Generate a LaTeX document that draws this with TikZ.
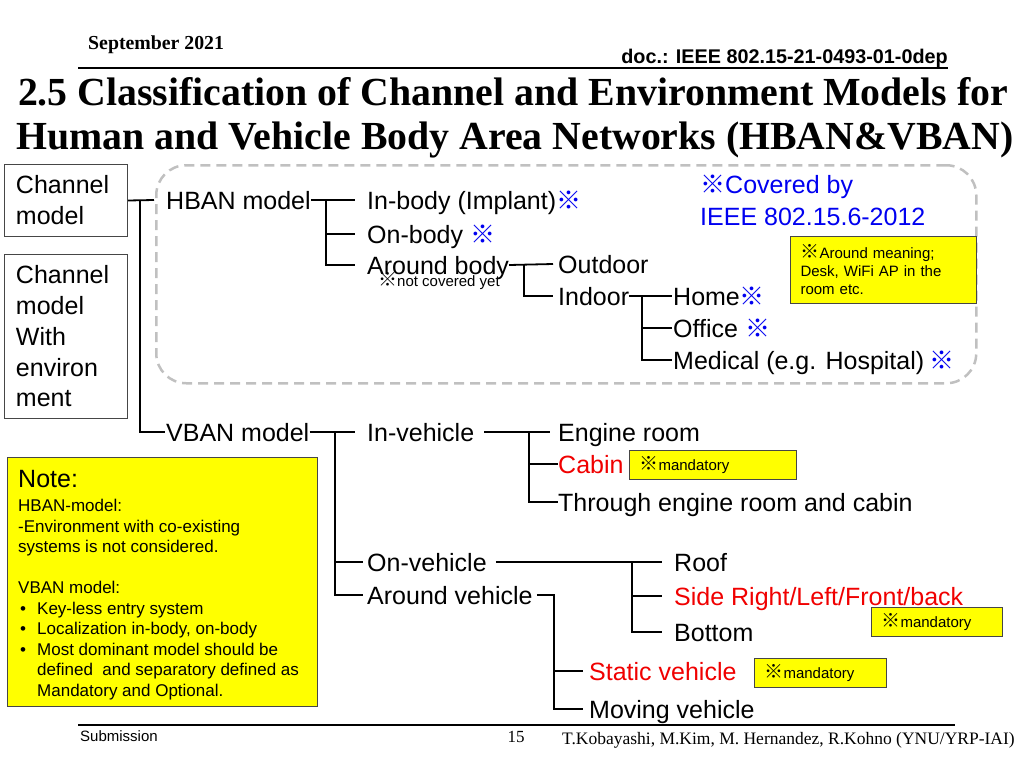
\documentclass[tikz,border=0pt]{standalone}
\usepackage{fontspec}
\setmainfont{Liberation Sans}
\newfontfamily\serif{Liberation Serif}
\newfontfamily\cjk{Noto Sans CJK JP}
\newcommand\km{{\cjk ※}}
\newcommand\kms{{\cjk\fontsize{19}{18}\selectfont ※}}
\definecolor{kblue}{RGB}{0,0,240}
\definecolor{kred}{RGB}{240,0,0}
\definecolor{kyel}{RGB}{255,255,0}
\definecolor{kgray}{RGB}{192,192,192}
\definecolor{kborder}{RGB}{70,70,70}
\begin{document}
\begin{tikzpicture}[x=1pt,y=-1pt,
  every node/.style={inner sep=0pt},
  tn/.style={anchor=west, font=\fontsize{25}{30}\selectfont, text height=18.75pt, text depth=0.75pt},
  wire/.style={line width=1.8pt, black},
  mand/.style={draw=kborder, fill=kyel, line width=1pt, anchor=north west, inner xsep=10pt,
    font=\fontsize{15}{18}\selectfont, align=left},
  cbox/.style={draw=kborder, line width=1pt, anchor=north west, inner xsep=11.5pt, align=left,
    font=\fontsize{25}{31}\selectfont, text width=100pt},
  rule/.style={line width=1.5pt, black}
]
\useasboundingbox (0,0) rectangle (1024,768);

% header
\node[anchor=west, font=\serif\bfseries\fontsize{19.8}{22}\selectfont] (date) at (88,45) {September 2021};
\node[anchor=east, font=\bfseries\fontsize{19.8}{22}\selectfont] (doc) at (948,58) {doc.: IEEE 802.15-21-0493-01-0dep};
\draw[rule] (78,68) -- (948,68);
\node[font=\serif\bfseries\fontsize{39.8}{44}\selectfont] (title1) at (513,92) {2.5 Classification of Channel and Environment Models for};
\node[font=\serif\bfseries\fontsize{39.8}{44}\selectfont] (title2) at (515,140) {Human and Vehicle Body Area Networks (HBAN\&VBAN)};

% footer
\draw[rule] (78,725) -- (955,725);
\node[anchor=west, font=\fontsize{15}{18}\selectfont] (subm) at (80,736) {Submission};
\node[font=\serif\fontsize{17}{20}\selectfont] (pnum) at (516,737) {15};
\node[anchor=east, font=\serif\fontsize{17.5}{20}\selectfont] (auth) at (1015,740) {T.Kobayashi, M.Kim, M. Hernandez, R.Kohno (YNU/YRP-IAI)};

% left boxes
\node[cbox, minimum width=123pt, minimum height=72pt] (cm) at (4,164) {Channel\\model};
\node[cbox, minimum width=123pt, minimum height=164pt, font=\fontsize{25}{30.75}\selectfont] (cme) at (4,254) {Channel\\model\\With\\environ\\ment};

% HBAN frame
\node[draw=kgray, line width=2.5pt, dash pattern=on 10pt off 6pt, rounded corners=30pt,
  anchor=north west, minimum width=820pt, minimum height=218pt] (frame) at (155,164) {};

% HBAN tree
\node[tn] (hban) at (166,200) {HBAN model};
\node[tn] (inbody) at (367,200) {In-body (Implant)\textcolor{kblue}{\km}};
\node[tn] (onbody) at (367,234) {On-body \textcolor{kblue}{\km}};
\node[tn] (around) at (367,265) {Around body};
\node[anchor=west, font=\fontsize{15}{18}\selectfont] (ncy) at (378,281) {\kms not covered yet};
\node[tn] (outdoor) at (558,264) {Outdoor};
\node[tn] (indoor) at (558,296) {Indoor};
\node[tn] (home) at (673,296) {Home\textcolor{kblue}{\km}};
\node[tn] (office) at (673,328) {Office \textcolor{kblue}{\km}};
\node[tn] (medical) at (673,360) {Medical (e.g. Hospital)\hspace{5pt}\textcolor{kblue}{\km}};

\node[anchor=west, text=kblue, font=\fontsize{25}{30}\selectfont] (cov1) at (700,187) {\km Covered by};
\node[anchor=west, text=kblue, font=\fontsize{25}{30}\selectfont] (cov2) at (700,217) {IEEE 802.15.6-2012};

\node[mand, minimum width=186pt, minimum height=67pt, text width=166pt] (aroundnote) at (790,236)
  {\kms Around meaning;\\Desk, WiFi AP in the\\room etc.};

\coordinate (trunk) at (140,200);
\coordinate (hbJ) at (326,200);
\coordinate (abJ) at (524,264);
\coordinate (inJ) at (642,296);

\draw[wire] (cm.east) -- ([xshift=-12pt]hban.west);
\draw[wire] (hban.east) -- ([xshift=-12pt]inbody.west);
\draw[wire] (hbJ) |- ([xshift=-12pt]around.west);
\draw[wire] (hbJ |- onbody.west) -- ([xshift=-12pt]onbody.west);
\draw[wire] (around.east) -- ([xshift=-5pt]outdoor.west);
\draw[wire] (abJ) |- ([xshift=-5pt]indoor.west);
\draw[wire] (indoor.east) -- ([xshift=-1pt]home.west);
\draw[wire] (inJ) |- ([xshift=-1pt]medical.west);
\draw[wire] (inJ |- office.west) -- ([xshift=-1pt]office.west);

% VBAN tree
\node[tn] (vban) at (166,432) {VBAN model};
\node[tn] (invehicle) at (367,432) {In-vehicle};
\node[tn] (engine) at (558,432) {Engine room};
\node[tn, text=kred] (cabin) at (558,464) {Cabin};
\node[tn] (through) at (558,502) {Through engine room and cabin};
\node[mand, minimum width=167pt, minimum height=29pt, text width=147pt] (m1) at (629,450) {\kms mandatory};

\node[tn] (onv) at (367,562) {On-vehicle};
\node[tn] (roof) at (674,562) {Roof};
\node[tn, text=kred] (side) at (674,596) {Side Right/Left/Front/back};
\node[tn] (bottom) at (674,632) {Bottom};
\node[mand, minimum width=131pt, minimum height=29pt, text width=111pt] (m2) at (871,607) {\kms mandatory};

\node[tn] (aroundv) at (367,595) {Around vehicle};
\node[tn, text=kred] (static) at (589,671) {Static vehicle};
\node[tn] (moving) at (589,709) {Moving vehicle};
\node[mand, minimum width=132pt, minimum height=29pt, text width=112pt] (m3) at (754,658) {\kms mandatory};

\coordinate (vbJ) at (335,432);
\coordinate (ivJ) at (529,432);
\coordinate (ovJ) at (632,562);
\coordinate (avJ) at (554,595);

\draw[wire] (trunk) |- ([xshift=-1pt]vban.west);
\draw[wire] (vban.east) -- ([xshift=-12pt]invehicle.west);
\draw[wire] (vbJ) |- ([xshift=-4pt]aroundv.west);
\draw[wire] (vbJ |- onv.west) -- ([xshift=-4pt]onv.west);
\draw[wire] ([xshift=10pt]invehicle.east) -- ([xshift=-8pt]engine.west);
\draw[wire] (ivJ) |- (through.west);
\draw[wire] (ivJ |- cabin.west) -- (cabin.west);
\draw[wire] ([xshift=9pt]onv.east) -- ([xshift=-12pt]roof.west);
\draw[wire] (ovJ) |- ([xshift=-12pt]bottom.west);
\draw[wire] (ovJ |- side.west) -- ([xshift=-12pt]side.west);
\draw[wire] ([xshift=4pt]aroundv.east) -- (avJ) |- ([xshift=-6pt]moving.west);
\draw[wire] (avJ |- static.west) -- ([xshift=-6pt]static.west);

% Note box
\node[draw=kborder, fill=kyel, line width=1pt, anchor=north west, minimum width=310pt, minimum height=249pt] (notebox) at (7,457) {};
\node[anchor=west, font=\fontsize{25}{30}\selectfont] (notehead) at (18,479) {Note:};
\node[anchor=north west, align=left, font=\fontsize{17}{20.5}\selectfont] (notetext) at (18,499)
  {HBAN-model:\\
   -Environment with co-existing\\
   systems is not considered.\\[20.5pt]
   VBAN model:\\
   \hspace*{2pt}\makebox[17pt][l]{\textbullet}Key-less entry system\\
   \hspace*{2pt}\makebox[17pt][l]{\textbullet}Localization in-body, on-body\\
   \hspace*{2pt}\makebox[17pt][l]{\textbullet}Most dominant model should be\\
   \hspace*{19pt}defined\ \ and separatory defined as\\
   \hspace*{19pt}Mandatory and Optional.};
\end{tikzpicture}
\end{document}
